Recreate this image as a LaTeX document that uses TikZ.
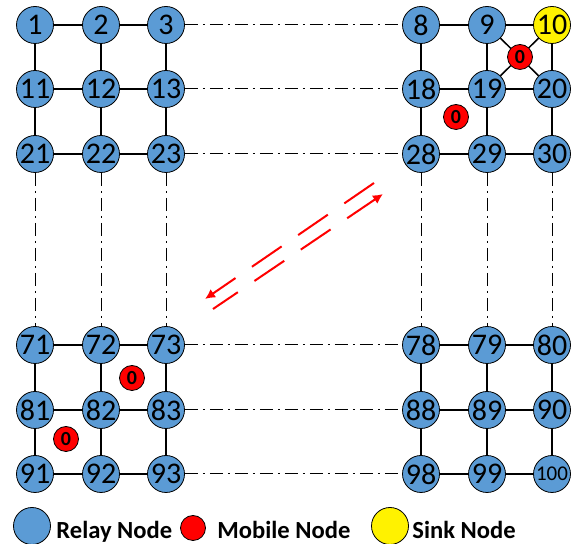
\documentclass[tikz,border=0pt]{standalone}
\usepackage{fontspec}
\setmainfont{Carlito}
\usetikzlibrary{arrows.meta}
\definecolor{relayblue}{RGB}{91,155,213}
\tikzset{
  relay/.style={circle, draw, fill=relayblue, minimum size=18.5pt, inner sep=0pt, font=\fontsize{15}{15}\selectfont},
  sink/.style={relay, fill=yellow},
  mobile/.style={circle, draw, fill=red, minimum size=12.5pt, inner sep=0pt, font=\fontsize{10}{10}\selectfont\bfseries},
  link/.style={line width=0.75pt},
  farlink/.style={line width=0.5pt, dash pattern=on 6.5pt off 2.5pt on 1pt off 2.5pt},
  route/.style={red, line width=1pt, dash pattern=on 18pt off 10pt, -{Latex[length=5pt,width=5pt]}},
  legtext/.style={anchor=base west, inner sep=0pt, font=\fontsize{12.3}{12.3}\selectfont\bfseries}
}
\begin{document}
\begin{tikzpicture}[x=0.5pt, y=-0.5pt]
    \useasboundingbox (0,0) rectangle (579,544);
    % relay grid
    \foreach \c/\x in {1/35,2/101,3/166,8/421,9/487,10/552}
      \foreach \r/\y in {0/25,1/89,2/154,7/345,8/410,9/474} {
        \pgfmathtruncatemacro\n{10*\r+\c}
        \ifnum\n=10
          \node[sink] (n\n) at (\x,\y) {\n};
        \else\ifnum\n=100
          \node[relay, font=\fontsize{10.5}{10.5}\selectfont] (n\n) at (\x,\y) {\n};
        \else
          \node[relay] (n\n) at (\x,\y) {\n};
        \fi\fi
      }
    % links inside the blocks
    \foreach \r in {0,1,2,7,8,9}
      \foreach \c in {1,2,8,9} {
        \pgfmathtruncatemacro\p{10*\r+\c}
        \pgfmathtruncatemacro\q{10*\r+\c+1}
        \draw[link] (n\p) -- (n\q);
      }
    \foreach \c in {1,2,3,8,9,10}
      \foreach \r in {0,1,7,8} {
        \pgfmathtruncatemacro\p{10*\r+\c}
        \pgfmathtruncatemacro\q{10*\r+\c+10}
        \draw[link] (n\p) -- (n\q);
      }
    \draw[link] (n9) -- (n20);
    \draw[link] (n10) -- (n19);
    % links between the blocks
    \foreach \r in {0,1,2,7,8,9} {
      \pgfmathtruncatemacro\p{10*\r+3}
      \pgfmathtruncatemacro\q{10*\r+8}
      \draw[farlink] (n\p) -- (n\q);
    }
    \foreach \c in {1,2,3,8,9,10} {
      \pgfmathtruncatemacro\p{20+\c}
      \pgfmathtruncatemacro\q{70+\c}
      \draw[farlink] (n\p) -- (n\q);
    }
    % mobile nodes
    \node[mobile] (m1) at (520,57) {0};
    \node[mobile] (m2) at (456,117) {0};
    \node[mobile] (m3) at (132,378) {0};
    \node[mobile] (m4) at (66,439) {0};
    % moving directions
    \coordinate (a1) at (374,183);
    \coordinate (a2) at (205,299);
    \coordinate (b1) at (213,309);
    \coordinate (b2) at (383,194);
    \draw[route] (a1) -- (a2);
    \draw[route, dash phase=3pt] (b1) -- (b2);
    % legend
    \node[relay] (lgRelay) at (32,526) {};
    \node[legtext] (lgRelayTxt) at (56,539) {Relay Node};
    \node[mobile] (lgMobile) at (193,528) {};
    \node[legtext] (lgMobileTxt) at (217,539) {Mobile Node};
    \node[sink] (lgSink) at (390,526) {};
    \node[legtext] (lgSinkTxt) at (412,539) {Sink Node};
\end{tikzpicture}
\end{document}
